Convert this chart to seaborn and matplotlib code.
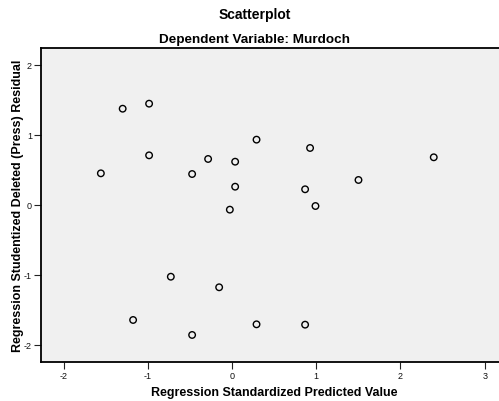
import matplotlib
matplotlib.use("Agg")
import matplotlib.pyplot as plt
import seaborn as sns
import pandas as pd

predicted = [-1.30, -0.986, -0.986, -1.559, -0.475, -0.285, 0.036, 0.036, -0.027, 0.29,
             0.926, 2.395, 1.501, 0.867, 0.990,
             -0.728, -0.154, -1.176, -0.475, 0.29, 0.867]
residual = [1.371, 1.443, 0.705, 0.448, 0.438, 0.653, 0.614, 0.257, -0.071, 0.929,
            0.81, 0.677, 0.353, 0.22, -0.019,
            -1.029, -1.18, -1.647, -1.861, -1.709, -1.714]
x_ticks = [-2, -1, 0, 1, 2, 3]
y_ticks = [-2, -1, 0, 1, 2]

df = pd.DataFrame({"pred": predicted, "resid": residual})

sns.set_style("white", {"xtick.bottom": True, "ytick.left": True})
plt.rcParams["font.family"] = ["Liberation Sans", "DejaVu Sans"]
plt.rcParams["text.color"] = "black"

fig = plt.figure(figsize=(4.99, 4.02), dpi=100)
ax = fig.add_axes([41/499, 1 - 362.7/402, 1 - 41/499, (362.7 - 49.3)/402])
ax.set_facecolor("#F0F0F0")

sns.scatterplot(data=df, x="pred", y="resid", ax=ax, marker="o", s=22,
                facecolors="none", edgecolor="black", linewidth=1.0, zorder=3)

ax.set_xlim(-2.27, 3.17)
ax.set_ylim(-2.243, 2.234)
ax.set_xticks(x_ticks)
ax.set_yticks(y_ticks)
ax.set_xticklabels([str(t) for t in x_ticks])
ax.set_yticklabels([str(t) for t in y_ticks])
ax.tick_params(axis="both", which="major", bottom=True, left=True, direction="out",
               length=5, width=0.8, color="#222222",
               labelsize=6.5, labelcolor="#111111", pad=1.5)
ax.set_xlabel("")
ax.set_ylabel("")
for side in ["left", "bottom", "top"]:
    ax.spines[side].set_visible(True)
    ax.spines[side].set_color("black")
    ax.spines[side].set_linewidth(1.3)
ax.spines["right"].set_visible(False)

fig.text(255/499, 1 - 15/402, "Scatterplot", ha="center", va="center",
         fontsize=10, fontweight="bold", color="black")
fig.text(255/499, 1 - 40/402, "Dependent Variable: Murdoch", ha="center", va="center",
         fontsize=9.7, fontweight="bold", color="black")
fig.text(274/499, 1 - 393/402, "Regression Standardized Predicted Value", ha="center",
         va="center", fontsize=9, fontweight="bold", color="black")
fig.text(18/499, 1 - 206/402, "Regression Studentized Deleted (Press) Residual",
         ha="center", va="center", rotation=90, fontsize=9, fontweight="bold",
         color="black")

fig.savefig("out.png", dpi=100)
